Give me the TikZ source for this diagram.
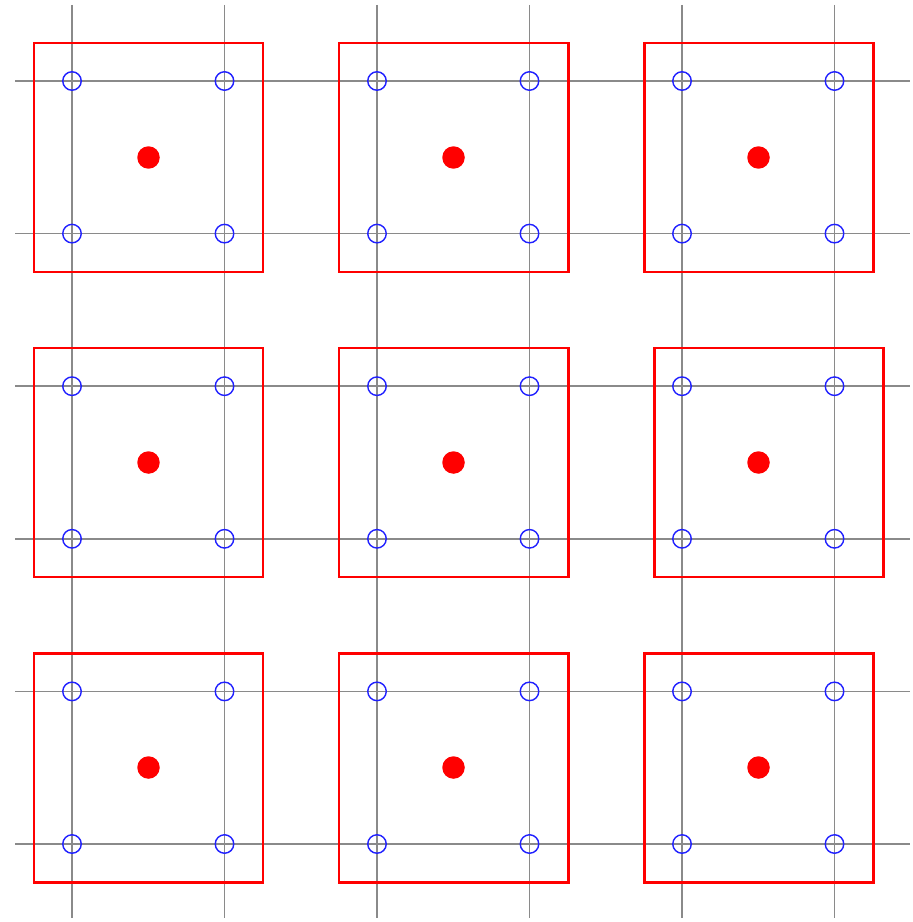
\documentclass[tikz,border=0pt]{standalone}
\usepackage{tikz}
\usetikzlibrary{positioning,calc}
\definecolor{gridgray}{HTML}{8A8A8A}
\definecolor{cellred}{HTML}{FF0000}
\definecolor{samplblue}{HTML}{2020FF}

\begin{document}
\begin{tikzpicture}[x=0.02cm, y=-0.02cm,
  gridline/.style={gridgray, line width=1pt},
  cellbox/.style={cellred, line width=1.7pt},
  sample/.style={draw=samplblue, circle, line width=0.8pt, minimum size=0.37cm, inner sep=0pt},
  centre/.style={fill=cellred, circle, minimum size=0.45cm, inner sep=0pt}
]
  \useasboundingbox (0,0) rectangle (912,922);

  % grid lines
  \foreach \i in {0,...,5} {
    \draw[gridline] ({72+152.5*\i},5) -- ({72+152.5*\i},918);
    \draw[gridline] (15,{81+152.6*\i}) -- (910,{81+152.6*\i});
  }

  % red cells with their centre dots
  \foreach \r in {0,1,2} {
    \foreach \c in {0,1,2} {
      \node[centre] (dot-\r-\c) at ({148.5+305*\c},{157.5+305*\r}) {};
    }
  }
  \foreach \r/\c/\dx in {0/0/0, 0/1/0, 0/2/0, 1/0/0, 1/1/0, 1/2/10, 2/0/0, 2/1/0, 2/2/0} {
    \draw[cellbox] ($(dot-\r-\c)+(-114.5+\dx,-114.5)$) rectangle ($(dot-\r-\c)+(114.5+\dx,114.5)$);
  }

  % blue sample points on the grid crossings
  \foreach \i in {0,...,5} {
    \foreach \j in {0,...,5} {
      \node[sample] (pt-\i-\j) at ({72+152.5*\i},{81+152.6*\j}) {};
    }
  }
\end{tikzpicture}
\end{document}
